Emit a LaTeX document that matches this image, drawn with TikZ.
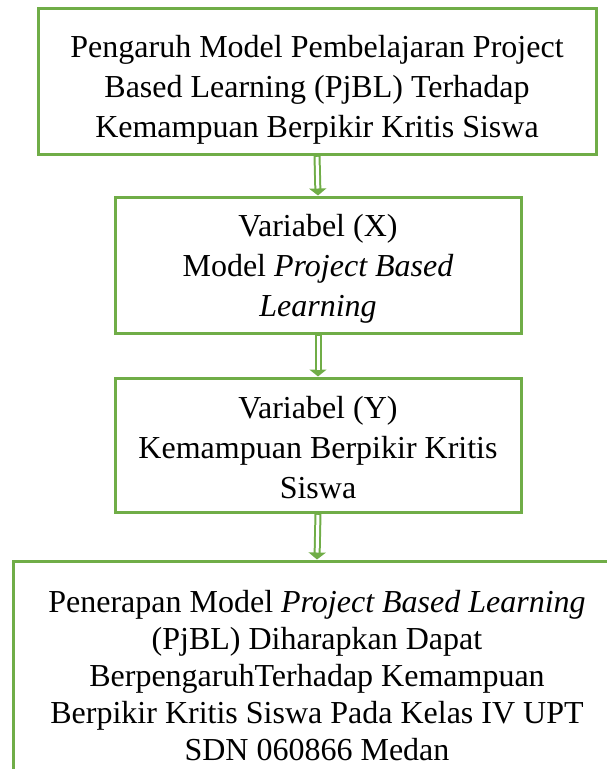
\documentclass[tikz,border=0pt]{standalone}
\usepackage{fontspec}
\setmainfont{Liberation Serif}
\usetikzlibrary{arrows.meta, positioning}
\definecolor{xGreen}{RGB}{112,173,71}
\tikzset{
  frame/.style={draw=xGreen, line width=3pt, inner sep=0pt},
  words/.style={align=center, inner sep=0pt, font=\fontsize{32}{40}\selectfont},
  link/.style={-{Triangle[length=7pt, width=17pt]}, draw=xGreen, line width=7pt,
               postaction={draw=white, line width=3pt, -, shorten <=1.5pt, shorten >=7pt}},
}

\begin{document}
\begin{tikzpicture}[x=1pt, y=-1pt]
    \useasboundingbox (0,0) rectangle (606,769);
    % frames
    \node[frame, minimum width=558pt, minimum height=146pt] (titleBox) at (317,81) {};
    \node[frame, minimum width=406pt, minimum height=136pt] (varXBox) at (318,265) {};
    \node[frame, minimum width=406pt, minimum height=134pt] (varYBox) at (318,445) {};
    \node[frame, minimum width=608pt, minimum height=239pt] (resultBox) at (317,680.5) {};
    % texts
    \node[words] (title) at (317,90)
      {Pengaruh Model Pembelajaran Project\\Based Learning (PjBL) Terhadap\\Kemampuan Berpikir Kritis Siswa};
    \node[words] (varX) at (318,269)
      {Variabel (X)\\Model \textit{Project Based}\\\textit{Learning}};
    \node[words] (varY) at (318,448)
      {Variabel (Y)\\Kemampuan Berpikir Kritis\\Siswa};
    \node[words, font=\fontsize{32}{37}\selectfont] (result) at (317,676)
      {Penerapan Model \textit{Project Based Learning}\\(PjBL) Diharapkan Dapat\\BerpengaruhTerhadap Kemampuan\\Berpikir Kritis Siswa Pada Kelas IV UPT\\SDN 060866 Medan};
    % arrows
    \draw[link] (titleBox.south) -- (varXBox.north);
    \draw[link] (varXBox.south) -- (varYBox.north);
    \draw[link] (varYBox.south) -- (resultBox.north);
  \end{tikzpicture}
\end{document}
